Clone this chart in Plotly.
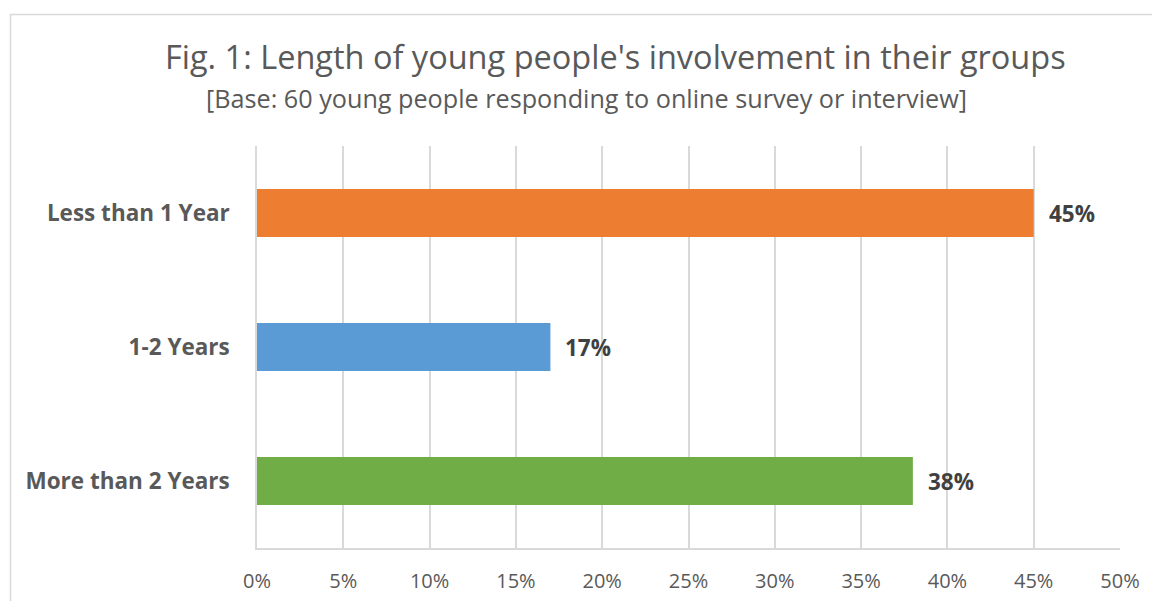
import plotly.graph_objects as go

categories = ["Less than 1 Year", "1-2 Years", "More than 2 Years"]
values = [45, 17, 38]
colors = ["#ED7D31", "#5B9BD5", "#70AD47"]
tick_vals = [0, 5, 10, 15, 20, 25, 30, 35, 40, 45, 50]
tick_text = [f"{v}%" for v in tick_vals]

FONT = "'Open Sans', sans-serif"

# page body has an 8px margin: screen = figure + 8
OFF = 8
W, H = 1160, 601
L, R = 257 - OFF, W - (1120 - OFF)
T, B = 146 - OFF, H - (548 - OFF)
pw, ph = W - L - R, H - T - B

def px(x):
    return (x - OFF - L) / pw

def py(y):
    return (H - B - (y - OFF)) / ph

fig = go.Figure()
fig.add_trace(go.Bar(
    x=values, y=categories, orientation="h",
    marker=dict(color=colors, line=dict(width=0)),
    width=0.36, hoverinfo="skip",
))

for c, v in zip(categories, values):
    fig.add_annotation(x=v, y=c, xref="x", yref="y", text=f"<b>{v}%</b>",
                       showarrow=False, xanchor="left", xshift=13,
                       font=dict(family=FONT, size=22.5, color="#404040"))

fig.add_annotation(x=px(615.5), y=py(56.5), xref="paper", yref="paper",
                   text="Fig. 1: Length of young people's involvement in their groups",
                   showarrow=False, xanchor="center", yanchor="middle",
                   font=dict(family=FONT, size=32.5, color="#595959"))
fig.add_annotation(x=px(586), y=py(98.5), xref="paper", yref="paper",
                   text="[Base: 60 young people responding to online survey or interview]",
                   showarrow=False, xanchor="center", yanchor="middle",
                   font=dict(family=FONT, size=25.2, color="#595959"))

fig.add_shape(type="rect", xref="paper", yref="paper",
              x0=px(10.5), y0=py(640), x1=px(1200), y1=py(14.5),
              line=dict(color="#d9d9d9", width=1.5), fillcolor="rgba(0,0,0,0)", layer="below")

fig.update_layout(
    width=W, height=H,
    margin=dict(l=L, r=R, t=T, b=B),
    paper_bgcolor="white", plot_bgcolor="white",
    showlegend=False,
    font=dict(family=FONT, color="#595959"),
    xaxis=dict(range=[0, 50], tickvals=tick_vals, ticktext=tick_text,
               showgrid=True, gridcolor="#d9d9d9", gridwidth=1.5,
               zeroline=False, showline=True, linecolor="#d9d9d9", linewidth=1.5,
               ticks="", ticklabelstandoff=14,
               tickfont=dict(family=FONT, size=20, color="#595959"), fixedrange=True),
    yaxis=dict(categoryorder="array", categoryarray=categories, autorange="reversed",
               showgrid=False, zeroline=False, showline=True, linecolor="#d9d9d9", linewidth=1.5,
               ticks="", ticklabelstandoff=21,
               tickfont=dict(family=FONT, size=22.5, color="#595959", weight="bold"),
               fixedrange=True),
)

fig.write_html("out.html")
